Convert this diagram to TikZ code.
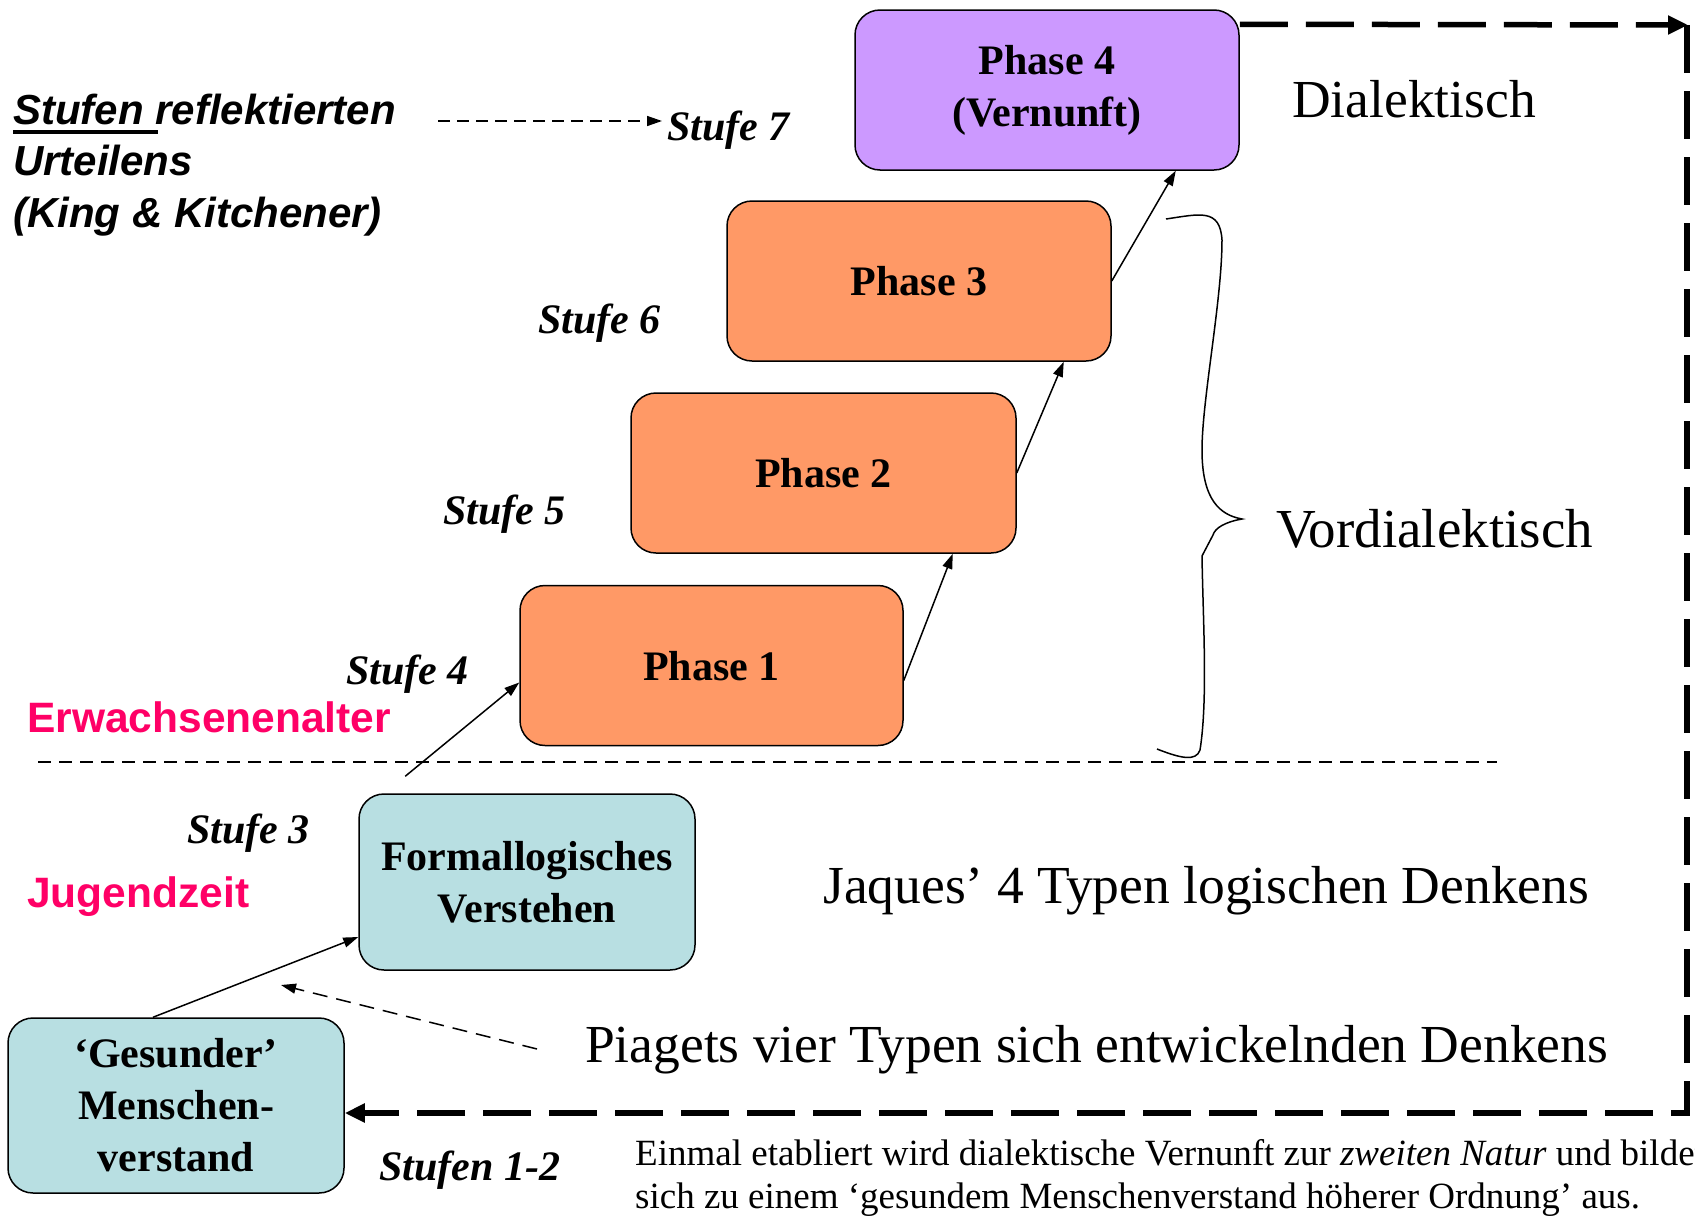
\documentclass[tikz,border=0pt]{standalone}
\usepackage{fontspec}
\setmainfont{Liberation Serif}
\newfontfamily\arialf{Liberation Sans}
\usetikzlibrary{arrows.meta,calc}
\definecolor{orng}{HTML}{FF9966}
\definecolor{purp}{HTML}{CC99FF}
\definecolor{teal0}{HTML}{B8DFE2}
\definecolor{pink0}{HTML}{FF0066}
\begin{document}
\begin{tikzpicture}[x=1pt,y=-1pt,
  boxbase/.style={draw=black,line width=1.5pt,rounded corners=25pt,inner sep=0pt,
    font=\fontsize{42}{52}\selectfont\bfseries},
  box/.style={boxbase,align=center},
  phasebox/.style={boxbase,fill=orng,minimum height=160pt,text height=29pt,text depth=0pt},
  stufe/.style={anchor=base west,inner sep=0pt,font=\fontsize{42}{50}\selectfont\bfseries\itshape},
  big/.style={anchor=base west,inner sep=0pt,font=\fontsize{53.5}{60}\selectfont},
  small/.style={anchor=base west,inner sep=0pt,font=\fontsize{37}{44}\selectfont},
  sans/.style={anchor=base west,inner sep=0pt,font=\arialf\fontsize{42}{50}\selectfont\bfseries\itshape},
  age/.style={anchor=base west,inner sep=0pt,text=pink0,font=\arialf\fontsize{42.5}{50}\selectfont\bfseries},
  arr/.style={line width=1.5pt,-{Triangle[length=15pt,width=10pt]}},
  darr/.style={arr,dash pattern=on 13pt off 8pt},
  bigloop/.style={line width=5.5pt,dash pattern=on 48pt off 18pt,-{Triangle[length=20pt,width=18pt]}}
]
\useasboundingbox (0,0) rectangle (1695,1221);
\clip (0,0) rectangle (1695,1221);

% boxes
\node[box,fill=purp,minimum width=384pt,minimum height=160pt] (p4) at (1047,90) {Phase 4\\(Vernunft)};
\node[phasebox,minimum width=384pt] (p3) at (919,281) {Phase 3};
\node[phasebox,minimum width=385pt] (p2) at (823.5,473) {Phase 2};
\node[phasebox,minimum width=383pt] (p1) at (711.5,665.5) {Phase 1};
\node[box,fill=teal0,minimum width=336pt,minimum height=176pt] (f) at (527,882) {Formallogisches\\Verstehen};
\node[box,fill=teal0,minimum width=336pt,minimum height=175pt] (g) at (176,1105.5) {‘Gesunder’\\Menschen-\\verstand};

% left title
\node[sans] (t1) at (13,124) {\rlap{\rule[-9.5pt]{145pt}{3.5pt}}Stufen reflektierten};
\node[sans] (t2) at (13,175) {Urteilens};
\node[sans] (t3) at (13,227) {(King \& Kitchener)};

% stufe labels
\node[stufe] (s7) at (667,140) {Stufe 7};
\node[stufe] (s6) at (538,333) {Stufe 6};
\node[stufe] (s5) at (443,524) {Stufe 5};
\node[stufe] (s4) at (346,684) {Stufe 4};
\node[stufe] (s3) at (187,843) {Stufe 3};
\node[stufe] (s12) at (379,1180) {Stufen 1-2};

% age labels
\node[age] (ea) at (27,732) {Erwachsenenalter};
\node[age] (jz) at (27,907) {Jugendzeit};

% big labels
\node[big] (dia) at (1292,117) {Dialektisch};
\node[big,font=\fontsize{55}{62}\selectfont] (vor) at (1276,547) {Vordialektisch};
\node[big] (jaq) at (823,903) {Jaques’ 4 Typen logischen Denkens};
\node[big] (pia) at (585,1062) {Piagets vier Typen sich entwickelnden Denkens};

% bottom note
\node[small] (n1) at (635,1165) {Einmal etabliert wird dialektische Vernunft zur \emph{zweiten Natur} und bildet};
\node[small] (n2) at (635,1208) {sich zu einem ‘gesundem Menschenverstand höherer Ordnung’ aus.};

% Stufe 7 dashed arrow
\coordinate (sa) at (438,121);
\coordinate (se) at (662,121);
\draw[darr,dash pattern=on 12pt off 7pt] (sa) -- (se);

% separator
\draw[line width=1.5pt,dash pattern=on 13pt off 8pt] (38,762) -- (1497,762);

% connectors
\draw[arr] ([xshift=-23pt]g.north) -- ([yshift=-55pt]f.west);
\draw[arr] ([xshift=47pt,yshift=17pt]f.north west) -- ([yshift=-17pt]p1.west);
\draw[arr] ([yshift=-15pt]p1.east) -- ([xshift=-64pt]p2.south east);
\draw[arr] (p2.east) -- ([xshift=-48pt]p3.south east);
\draw[arr] (p3.east) -- ([xshift=-64pt]p4.south east);

% Piaget dashed arrow
\coordinate (pd) at (537,1049);
\coordinate (pe) at (281,985);
\draw[darr,dash pattern=on 15pt off 9pt] (pd) -- (pe);

% big dashed loop
\coordinate (c1) at (1688,25);
\coordinate (c2) at (1687,1113);
\draw[bigloop] ([yshift=-15pt]p4.north east) -- (c1);
\draw[bigloop] (1687,25) -- (c2) -- ([yshift=-7.5pt]g.east);

% brace
\draw[line width=1.5pt] (1166,219) .. controls (1200,214) and (1220,208) .. (1222,240)
  .. controls (1222,300) and (1202,400) .. (1202,450)
  .. controls (1202,500) and (1220,515) .. (1242,519)
  .. controls (1225,522) and (1215,528) .. (1213,535)
  -- (1202,556)
  .. controls (1203,620) and (1208,700) .. (1200,750)
  .. controls (1196,762) and (1180,758) .. (1157,749);
\end{tikzpicture}
\end{document}
